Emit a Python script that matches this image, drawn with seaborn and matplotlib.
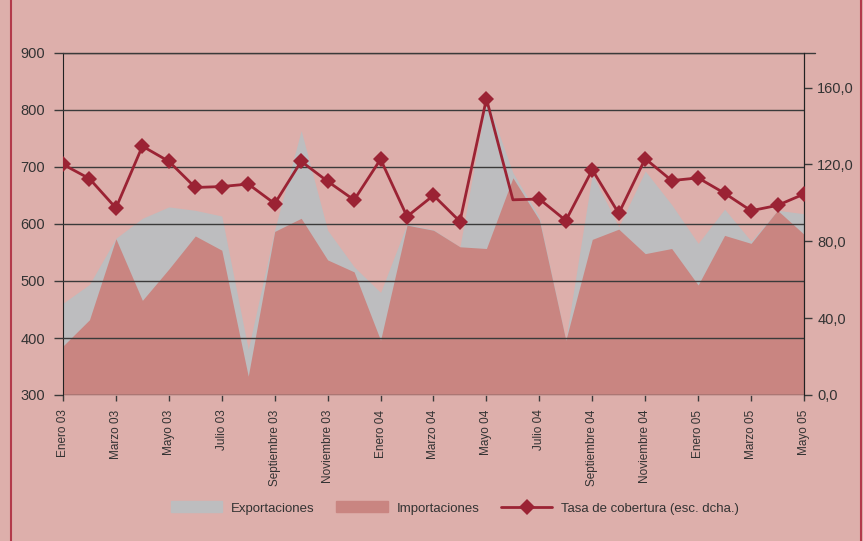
import matplotlib.pyplot as plt
import matplotlib.lines as mlines
import matplotlib.patches as mpatches
import numpy as np
import pandas as pd
import seaborn as sb

# monthly data, Enero 03 .. Mayo 05
meses = ["Enero", "Febrero", "Marzo", "Abril", "Mayo", "Junio", "Julio", "Agosto",
         "Septiembre", "Octubre", "Noviembre", "Diciembre"]
periodo = [f"{meses[m % 12]} {3 + m // 12:02d}" for m in range(29)]

exportaciones = [461, 494, 575, 610, 630, 624, 614, 380, 590, 764, 589, 525, 480, 600, 590,
                 560, 820, 690, 612, 397, 688, 595, 693, 634, 566, 626, 570, 624, 618]
importaciones = [386, 432, 574, 466, 521, 579, 554, 333, 587, 610, 537, 516, 396, 598, 589,
                 560, 557, 681, 607, 396, 573, 591, 548, 557, 493, 580, 566, 624, 582]
tasa = [120.0, 112.6, 97.3, 129.5, 121.6, 108.0, 108.5, 109.8, 99.6, 121.6, 111.2, 101.5,
        122.7, 92.9, 103.9, 90.3, 154.2, 101.6, 102.0, 90.8, 117.2, 94.5, 123.0, 111.6,
        113.0, 105.0, 95.9, 98.7, 104.6]

yticks_izq = [300, 400, 500, 600, 700, 800, 900]
yticks_dcha = [0, 40, 80, 120, 160]

BG = "#DDAFAB"
GRIS = "#BDBDBF"
ROJO_AREA = "#C98581"
ROJO_LINEA = "#9B2334"

if __name__ == "__main__":
    sb.set_style("white")
    plt.rcParams["font.family"] = ["Liberation Sans", "DejaVu Sans"]
    plt.rcParams["text.color"] = "#333333"

    df = pd.DataFrame({"x": np.arange(len(periodo)), "exp": exportaciones,
                       "imp": importaciones, "tasa": tasa})

    fig = plt.figure(figsize=(8.63, 5.41), dpi=100, facecolor=BG)
    ax = fig.add_axes([63 / 863, 1 - 395 / 541, (804 - 63) / 863, (395 - 53) / 541])
    ax.set_facecolor(BG)

    ax.fill_between(df["x"], 300, df["exp"], color=GRIS, lw=0, zorder=1)
    ax.fill_between(df["x"], 300, df["imp"], color=ROJO_AREA, lw=0, zorder=2)

    ax.set_xlim(0, len(periodo) - 1)
    ax.set_ylim(300, 900)
    ax.set_yticks(yticks_izq)
    ax.set_yticklabels([str(v) for v in yticks_izq], fontsize=10.5, color="#333333")
    ax.set_xticks(df["x"][::2])
    ax.set_xticklabels(periodo[::2], rotation=90, fontsize=8.5, color="#333333")
    for v in yticks_izq:
        ax.axhline(v, color="#3a3a3a", lw=1, zorder=3)
    ax.axhline(900, xmin=0, xmax=1.015, color="#3a3a3a", lw=1, zorder=3, clip_on=False)

    for s in ["top", "bottom"]:
        ax.spines[s].set_visible(False)
    ax.spines["left"].set_color("#222222")
    ax.spines["right"].set_color("#222222")
    ax.tick_params(axis="y", direction="out", length=6.5, width=1, color="#3a3a3a", pad=6.5, left=True)
    ax.tick_params(axis="x", direction="out", length=4.5, width=1, color="#3a3a3a", pad=6, bottom=True)

    ax2 = ax.twinx()
    ax2.set_ylim(0, 178)
    keep = [i for i in range(len(tasa)) if i != 17]
    sb.lineplot(data=df, x="x", y="tasa", ax=ax2, color=ROJO_LINEA, lw=2,
                marker="D", markersize=8, markeredgewidth=0, markevery=keep, zorder=5)
    ax2.set_yticks(yticks_dcha)
    ax2.set_yticklabels([f"{v},0" for v in yticks_dcha], fontsize=10.5, color="#333333")
    ax2.set_ylabel("")
    ax2.set_xlabel("")
    ax.set_xlabel("")
    ax2.tick_params(axis="y", direction="out", length=6, width=1, color="#3a3a3a", pad=3.5, right=True)
    for s in ["top", "bottom", "left"]:
        ax2.spines[s].set_visible(False)
    ax2.spines["right"].set_color("#222222")

    # legend
    h = [mpatches.Patch(color=GRIS, label="Exportaciones"),
         mpatches.Patch(color=ROJO_AREA, label="Importaciones"),
         mlines.Line2D([], [], color=ROJO_LINEA, lw=2, marker="D", markersize=8,
                       markeredgewidth=0, label="Tasa de cobertura (esc. dcha.)")]
    fig.legend(handles=h, loc="center", bbox_to_anchor=(455 / 863, 1 - 508 / 541), ncol=3,
               frameon=False, fontsize=9.5, handlelength=3.9, handleheight=0.9,
               columnspacing=1.6, handletextpad=0.7)

    # outer frame
    for xx in [11 / 863, 861 / 863]:
        fig.add_artist(mlines.Line2D([xx, xx], [0, 1], color="#B23A4A", lw=1.5))

    plt.savefig("out.png", dpi=100, facecolor=BG)
    plt.close()
